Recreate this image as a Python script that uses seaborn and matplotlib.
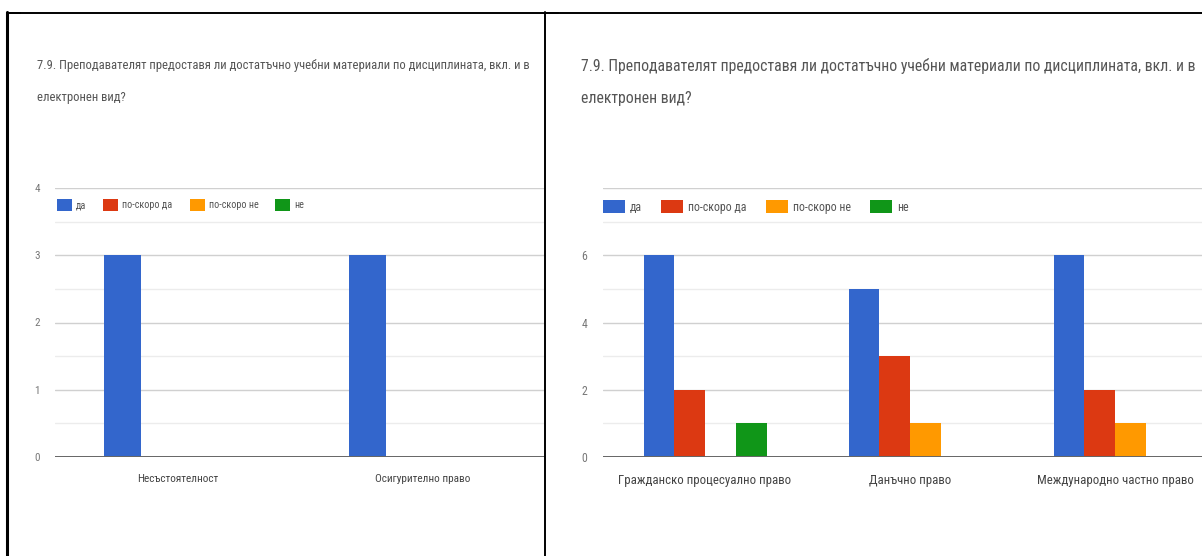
import matplotlib
matplotlib.use("Agg")
import matplotlib.pyplot as plt
from matplotlib.lines import Line2D
from matplotlib.patches import Patch
from matplotlib.font_manager import FontProperties
import seaborn as sns
import pandas as pd

# ---- data ----
title_line1 = "7.9. Преподавателят предоставя ли достатъчно учебни материали по дисциплината, вкл. и в"
title_line2 = "електронен вид?"
responses = ["да", "по-скоро да", "по-скоро не", "не"]
colors = ["#3366cc", "#dc3912", "#ff9900", "#109618"]

left_categories = ["Несъстоятелност", "Осигурително право"]
left_da = [3, 3]
left_po_skoro_da = [0, 0]
left_po_skoro_ne = [0, 0]
left_ne = [0, 0]

right_categories = ["Гражданско процесуално право", "Данъчно право", "Международно частно право"]
right_da = [6, 5, 6]
right_po_skoro_da = [2, 3, 2]
right_po_skoro_ne = [0, 1, 1]
right_ne = [1, 0, 0]

left_yticks = [0, 1, 2, 3, 4]
right_yticks = [0, 2, 4, 6, 8]
right_ytick_labels = ["0", "2", "4", "6", ""]


def make_df(cats, series):
    rows = []
    for resp, vals in zip(responses, series):
        for c, v in zip(cats, vals):
            rows.append({"category": c, "response": resp, "value": v})
    return pd.DataFrame(rows)


df_left = make_df(left_categories, [left_da, left_po_skoro_da, left_po_skoro_ne, left_ne])
df_right = make_df(right_categories, [right_da, right_po_skoro_da, right_po_skoro_ne, right_ne])

sns.set_theme(style="white")
FONT = ["Liberation Sans Narrow", "Roboto Condensed", "DejaVu Sans"]
plt.rcParams["font.family"] = FONT
plt.rcParams["font.stretch"] = "condensed"

W, H = 1202, 556
fig = plt.figure(figsize=(W / 100, H / 100), dpi=100)
fig.patch.set_facecolor("white")
renderer = fig.canvas.get_renderer()


def fx(px):
    return px / W


def fy(py):
    return 1 - py / H


def fit_size(s, target_px, base=10.0):
    t = fig.text(0, 0, s, fontsize=base, family=FONT, fontstretch="condensed")
    w = t.get_window_extent(renderer).width
    t.remove()
    return base * target_px / w


def style_axes(ax, yticks, ylabels, minor, xsize, ysize):
    ax.set_yticks(yticks)
    ax.set_yticklabels(ylabels)
    ax.set_yticks(minor, minor=True)
    ax.grid(axis="y", which="major", color="#d0d0d0", linewidth=1.0)
    ax.grid(axis="y", which="minor", color="#ececec", linewidth=1.0)
    ax.grid(axis="x", visible=False)
    ax.set_axisbelow(True)
    for s in ax.spines.values():
        s.set_visible(False)
    ax.axhline(0, color="#666666", linewidth=1.4, zorder=5)
    ax.set_xlabel("")
    ax.set_ylabel("")
    ax.tick_params(axis="y", which="both", length=0, pad=11, labelsize=ysize, labelcolor="#777777")
    ax.tick_params(axis="x", length=0, pad=12, labelsize=xsize, labelcolor="#444444")
    for t in ax.get_yticklabels() + ax.get_xticklabels():
        t.set_family(FONT)
        t.set_fontstretch("condensed")


# font sizes fitted to the widths seen in the reference
size_title_left = fit_size(title_line1, 493)
size_title_right = fit_size(title_line1, 612)
size_x_left = fit_size(left_categories[1], 96)
size_x_right = fit_size(right_categories[0], 172)
size_leg_left = fit_size(responses[1], 50)
size_leg_right = fit_size(responses[1], 59)

# ---- left chart ----
axL = fig.add_axes([fx(55), fy(457), fx(545) - fx(55), fy(188) - fy(457)])
sns.barplot(data=df_left, x="category", y="value", hue="response", order=left_categories,
            hue_order=responses, palette=colors, width=0.6, saturation=1, errorbar=None,
            linewidth=0, legend=False, ax=axL)
axL.set_xlim(-0.5, 1.5)
axL.set_ylim(0, 4)
style_axes(axL, left_yticks, [str(v) for v in left_yticks], [0.5, 1.5, 2.5, 3.5], size_x_left, 8)

# ---- right chart ----
axR = fig.add_axes([fx(602.5), fy(457), fx(1202) - fx(602.5), fy(188) - fy(457)])
sns.barplot(data=df_right, x="category", y="value", hue="response", order=right_categories,
            hue_order=responses, palette=colors, width=0.6, saturation=1, errorbar=None,
            linewidth=0, legend=False, ax=axR)
axR.set_xlim(-0.5, 2.424)
axR.set_ylim(0, 8)
style_axes(axR, right_yticks, right_ytick_labels, [1, 3, 5, 7], size_x_right, 8.5)

# ---- titles ----
for (x0, sz) in [(37, size_title_left), (581, size_title_right)]:
    fig.text(fx(x0), fy(66), title_line1, fontsize=sz, color="#555555", va="center", ha="left",
             family=FONT, fontstretch="condensed")
    fig.text(fx(x0), fy(98), title_line2, fontsize=sz, color="#555555", va="center", ha="left",
             family=FONT, fontstretch="condensed")

# ---- legends ----
handles = [Patch(facecolor=c, edgecolor="none") for c in colors]


def add_legend(x0, y0, size, sq_w, sq_h, gap_px, col_px):
    em = size * 100 / 72
    fig.legend(handles, responses, loc="center left", bbox_to_anchor=(fx(x0), fy(y0)), ncol=4,
               frameon=False, handlelength=sq_w / em, handleheight=sq_h / em,
               handletextpad=gap_px / em, columnspacing=col_px / em, borderpad=0,
               borderaxespad=0, labelcolor="#555555",
               prop=FontProperties(family=FONT, size=size, stretch="condensed"))


add_legend(57, 205, size_leg_left, 15, 14, 4, 17)
add_legend(603, 207, size_leg_right, 22, 15, 5, 19)

# ---- table frame ----
frame_kw = dict(transform=fig.transFigure, color="black", linewidth=1.4)
fig.add_artist(Line2D([fx(7), fx(1202)], [fy(12.7), fy(12.7)], **frame_kw))
fig.add_artist(Line2D([fx(7), fx(7)], [fy(12), fy(556)], **dict(frame_kw, linewidth=2.2)))
fig.add_artist(Line2D([fx(545), fx(545)], [fy(12), fy(556)], **frame_kw))
fig.add_artist(Line2D([fx(7), fx(20)], [fy(13.3), fy(13.3)], **frame_kw))
fig.add_artist(Line2D([fx(545), fx(558)], [fy(13.3), fy(13.3)], **frame_kw))

fig.savefig("out.png", dpi=100, facecolor="white")
